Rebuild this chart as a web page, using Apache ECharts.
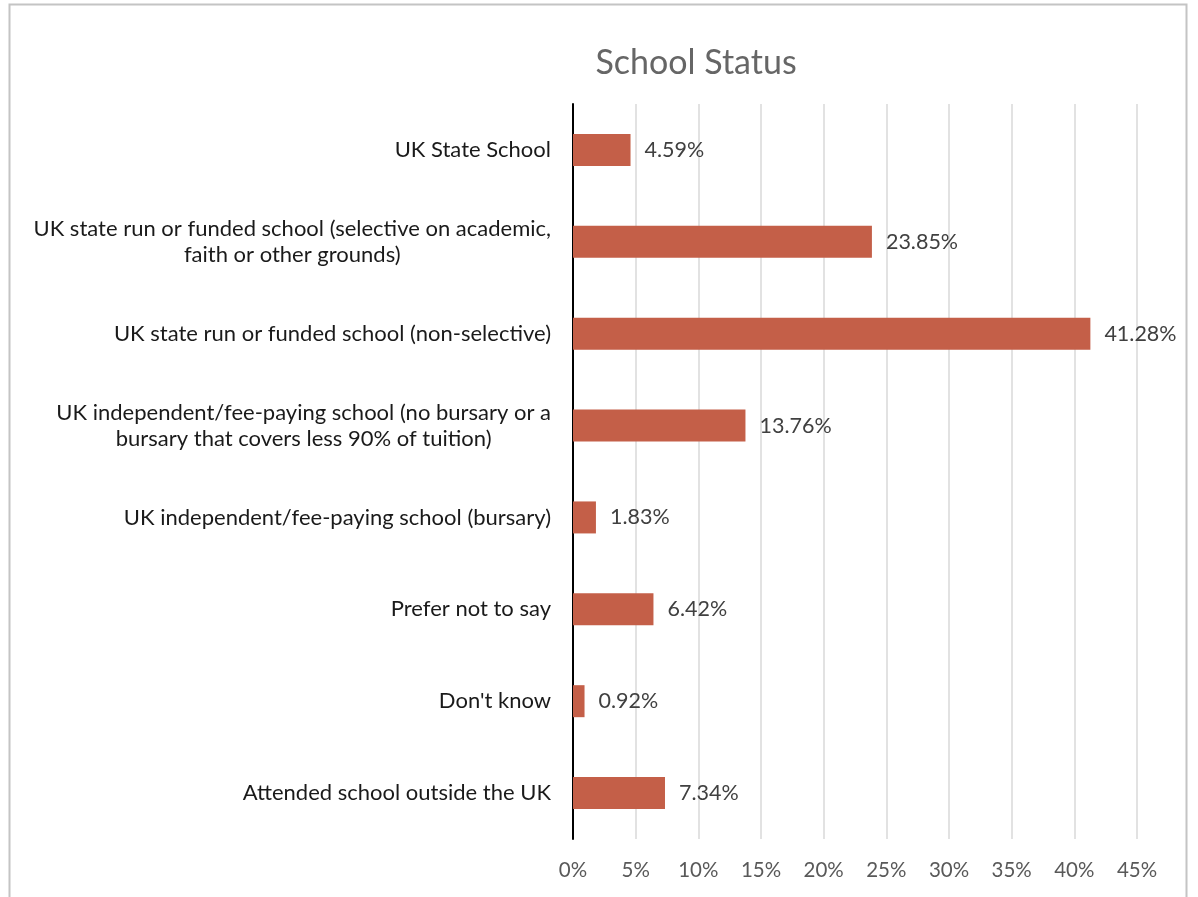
<!DOCTYPE html>
<html><head><meta charset="utf-8">
<script src="https://cdn.jsdelivr.net/npm/echarts@6/dist/echarts.min.js"></script>
<style>html,body{margin:0;padding:0;background:#fff}#c{width:1198px;height:897px}</style>
</head><body><div id="c"></div>
<script>
const chartTitle = 'School Status';
const categories = [
  'UK State School',
  'UK state run or funded school (selective on academic,\nfaith or other grounds)',
  'UK state run or funded school (non-selective)',
  'UK independent/fee-paying school (no bursary or a\nbursary that covers less 90% of tuition)',
  'UK independent/fee-paying school (bursary)',
  'Prefer not to say',
  "Don't know",
  'Attended school outside the UK'
];
const values = [4.59, 23.85, 41.28, 13.76, 1.83, 6.42, 0.92, 7.34];
const xMin = 0, xMax = 45, xStep = 5;

const FONT = "Lato, 'Open Sans', sans-serif";
const chart = echarts.init(document.getElementById('c'), null, {renderer: 'canvas'});
chart.setOption({
  backgroundColor: '#fff',
  animation: false,
  title: {
    text: chartTitle,
    left: 696, top: 46, textAlign: 'center', padding: 0,
    textStyle: {fontFamily: FONT, fontSize: 34, fontWeight: 'normal', color: '#666'}
  },
  graphic: [{
    type: 'rect', silent: true, z: -10,
    shape: {x: 9.5, y: 4.5, width: 1177, height: 1000},
    style: {fill: 'none', stroke: '#c4c4c4', lineWidth: 2}
  }],
  grid: {left: 573, right: 61, top: 104, bottom: 58, containLabel: false},
  xAxis: {
    type: 'value', min: xMin, max: xMax, interval: xStep,
    axisLine: {show: false}, axisTick: {show: false},
    splitLine: {show: true, lineStyle: {color: '#d9d9d9', width: 1.5}},
    axisLabel: {formatter: '{value}%', color: '#595959', fontFamily: FONT, fontSize: 20.5, margin: 21}
  },
  yAxis: {
    type: 'category', data: categories, inverse: true,
    axisLine: {show: true, lineStyle: {color: '#000', width: 2}},
    axisTick: {show: false},
    axisLabel: {
      margin: 22, color: '#1a1a1a', fontFamily: FONT, fontSize: 22, lineHeight: 26,
      formatter: v => v.split('\n').map(s => '{c|' + s + '}').join('\n'),
      rich: {c: {align: 'center', fontFamily: FONT, fontSize: 22, lineHeight: 26, color: '#1a1a1a'}}
    }
  },
  series: [{
    type: 'bar', data: values, barWidth: 32,
    itemStyle: {color: '#C45F48'},
    label: {
      show: true, position: 'right', distance: 14,
      formatter: p => p.value.toFixed(2) + '%',
      color: '#404040', fontFamily: FONT, fontSize: 21.5
    }
  }]
});
</script></body></html>
